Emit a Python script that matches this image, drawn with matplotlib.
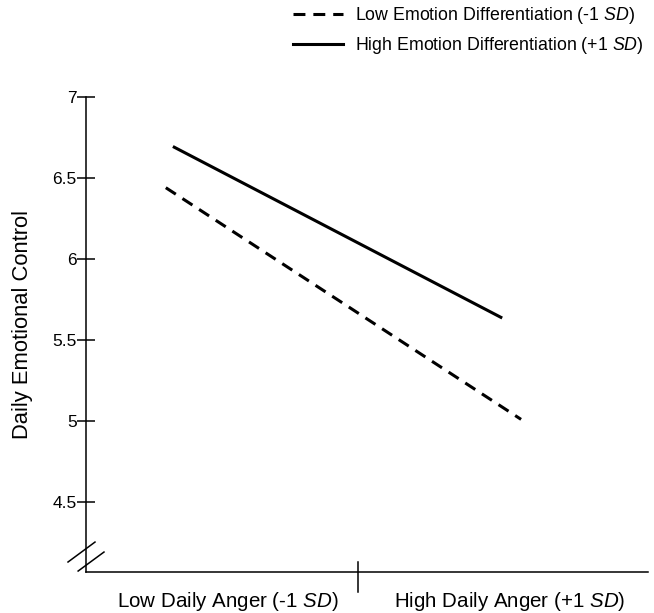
import matplotlib

matplotlib.use("Agg")
import matplotlib.pyplot as plt

plt.rcParams["font.family"] = ["Liberation Sans", "DejaVu Sans"]
plt.rcParams["mathtext.fontset"] = "custom"
plt.rcParams["mathtext.rm"] = "Liberation Sans"
plt.rcParams["mathtext.it"] = "Liberation Sans:italic"

# Simple slopes (x = position along the anger axis, 0..1)
low_diff_x = [0.142, 0.774]
low_diff_y = [6.44, 5.01]
high_diff_x = [0.157, 0.738]
high_diff_y = [6.69, 5.64]

series_labels = ["Low Emotion Differentiation (-1 $\\it{SD}$)",
                 "High Emotion Differentiation (+1 $\\it{SD}$)"]
x_labels = ["Low Daily Anger (-1 $\\it{SD}$)", "High Daily Anger (+1 $\\it{SD}$)"]
x_label_pos = [0.253, 0.753]
mid_tick = 0.484
y_ticks = [4.5, 5, 5.5, 6, 6.5, 7]
y_tick_labels = ["4.5", "5", "5.5", "6", "6.5", "7"]

fig = plt.figure(figsize=(6.54, 6.13), dpi=100)
ax = fig.add_axes([0.1315, 0.0669, 0.8595, 0.7749])

ln_low, = ax.plot(low_diff_x, low_diff_y, color="black", lw=2.2,
                  linestyle=(0, (3.9, 2.6)), solid_capstyle="butt")
ln_high, = ax.plot(high_diff_x, high_diff_y, color="black", lw=2.2)

ax.set_xlim(0, 1)
ax.set_ylim(4.068, 7)

for s in ["top", "right"]:
    ax.spines[s].set_visible(False)
for s in ["left", "bottom"]:
    ax.spines[s].set_linewidth(1.1)

ax.set_yticks(y_ticks)
ax.set_yticklabels(y_tick_labels)
ax.tick_params(axis="y", direction="inout", length=13.5, width=1.1,
               labelsize=12.5, pad=0)
ax.set_xticks(x_label_pos)
ax.set_xticklabels(x_labels)
ax.tick_params(axis="x", length=0, labelsize=14.8, pad=13)

# centre tick on the x axis
ax.plot([mid_tick, mid_tick], [-0.042, 0.021], color="black", lw=1.1,
        transform=ax.get_xaxis_transform(), clip_on=False)

# axis break marks at the bottom of the y axis
ax.plot([-0.032, 0.016], [0.021, 0.063], color="black", lw=1.1,
        transform=ax.transAxes, clip_on=False)
ax.plot([-0.014, 0.032], [0.002, 0.042], color="black", lw=1.1,
        transform=ax.transAxes, clip_on=False)

ax.set_ylabel("Daily Emotional Control", fontsize=15.8)
ax.yaxis.set_label_coords(-0.094, 0.52)

fig.legend([ln_low, ln_high], series_labels, loc="upper left",
           bbox_to_anchor=(0.448, 0.992), frameon=False, fontsize=12.8,
           handlelength=2.8, handletextpad=0.7, labelspacing=0.5,
           borderpad=0, borderaxespad=0)

fig.savefig("out.png", dpi=100)
